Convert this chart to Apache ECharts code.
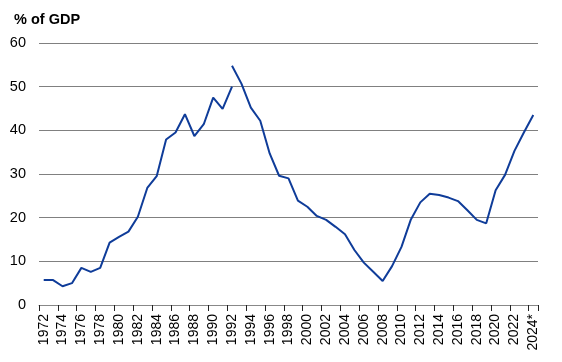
<!DOCTYPE html>
<html>
<head>
<meta charset="utf-8">
<script src="https://cdn.jsdelivr.net/npm/echarts@6/dist/echarts.min.js"></script>
<style>
html,body{margin:0;padding:0;background:#fff;}
#c{width:562px;height:362px;}
</style>
</head>
<body>
<div id="c"></div>
<script>
const years = ["1972","1973","1974","1975","1976","1977","1978","1979","1980","1981",
"1982","1983","1984","1985","1986","1987","1988","1989","1990","1991",
"1992","1993","1994","1995","1996","1997","1998","1999","2000","2001",
"2002","2003","2004","2005","2006","2007","2008","2009","2010","2011",
"2012","2013","2014","2015","2016","2017","2018","2019","2020","2021",
"2022","2023","2024*"];

// Series before break: 1972-1992
const seriesOld = [5.7,5.7,4.3,5.0,8.5,7.6,8.5,14.3,15.6,16.8,
20.2,26.8,29.5,37.9,39.5,43.7,38.7,41.4,47.5,44.9,50.0];

// Series after break: 1992-2024*
const seriesNew = [54.8,50.7,45.2,42.2,34.7,29.6,29.0,23.9,22.5,20.4,
19.5,17.9,16.2,12.6,9.7,7.6,5.5,8.9,13.3,19.6,
23.5,25.5,25.2,24.6,23.8,21.7,19.5,18.7,26.3,29.8,
35.3,39.5,43.5];

const yTicks = [0,10,20,30,40,50,60];

const oldData = years.map((y,i)=> i < seriesOld.length ? seriesOld[i] : null);
const newStart = years.indexOf("1992");
const newData = years.map((y,i)=> i >= newStart ? seriesNew[i-newStart] : null);

const chart = echarts.init(document.getElementById('c'), null, {renderer:'canvas'});
const FONT = '"Liberation Sans", Arial, sans-serif';
const LINE = '#0f3c99';
chart.setOption({
  animation:false,
  backgroundColor:'#ffffff',
  title:{
    text:'% of GDP', left:9, top:7,
    textStyle:{fontFamily:FONT, fontSize:14.5, fontWeight:'bold', color:'#000'}
  },
  grid:{left:39, right:24, top:43, bottom:57, containLabel:false},
  xAxis:{
    type:'category', data:years, boundaryGap:true,
    axisLine:{show:true, lineStyle:{color:'#888888', width:1}},
    axisTick:{show:true, interval:1, length:6, alignWithLabel:false, lineStyle:{color:'#222222', width:1}},
    axisLabel:{interval:1, rotate:90, margin:9, fontFamily:FONT, fontSize:14, color:'#000'},
    splitLine:{show:false}
  },
  yAxis:{
    type:'value', min:yTicks[0], max:yTicks[yTicks.length-1], interval:10,
    axisLine:{show:false}, axisTick:{show:false},
    axisLabel:{margin:13, fontFamily:FONT, fontSize:14.5, color:'#000'},
    splitLine:{show:true, lineStyle:{color:'#808080', width:1}}
  },
  series:[
    {type:'line', data:oldData, showSymbol:false, connectNulls:false,
     lineStyle:{color:LINE, width:2}, itemStyle:{color:LINE}},
    {type:'line', data:newData, showSymbol:false, connectNulls:false,
     lineStyle:{color:LINE, width:2}, itemStyle:{color:LINE}}
  ]
});
</script>
</body>
</html>
